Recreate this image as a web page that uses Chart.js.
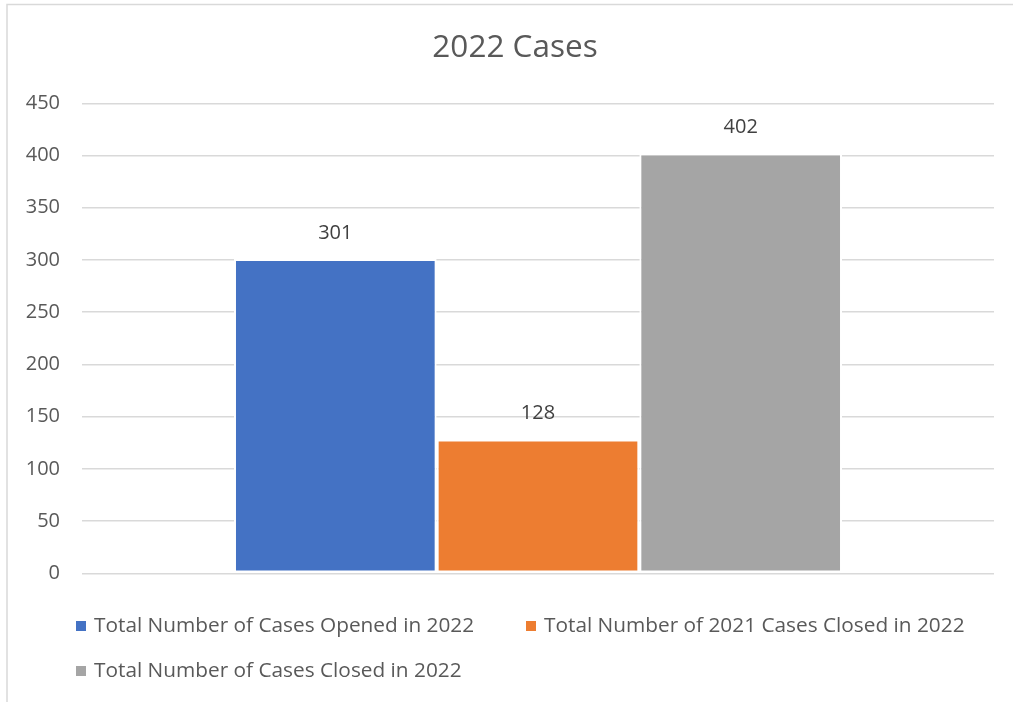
<!DOCTYPE html>
<html>
<head>
<meta charset="utf-8">
<script src="https://cdn.jsdelivr.net/npm/chart.js@4.4.0/dist/chart.umd.min.js"></script>
<style>
  html, body { margin: 0; padding: 0; background: #ffffff; }
  #wrap { position: relative; width: 1013px; height: 702px; }
  canvas { display: block; }
</style>
</head>
<body>
<div id="wrap"><canvas id="c" width="1013" height="702"></canvas></div>
<script>
// ---- data ----
const categories = [''];
const seriesNames = [
  'Total Number of Cases Opened in 2022',
  'Total Number of 2021 Cases Closed in 2022',
  'Total Number of Cases Closed in 2022'
];
const seriesValues = [301, 128, 402];
const seriesColors = ['#4472c4', '#ed7d31', '#a5a5a5'];
const yTicks = [0, 50, 100, 150, 200, 250, 300, 350, 400, 450];
const chartTitle = '2022 Cases';

const FONT = '"Open Sans", "Noto Sans", sans-serif';

const frame = {
  id: 'frame',
  beforeDraw(chart) {
    const ctx = chart.ctx;
    ctx.save();
    ctx.fillStyle = '#ffffff';
    ctx.fillRect(0, 0, chart.width, chart.height);
    ctx.strokeStyle = '#d9d9d9';
    ctx.lineWidth = 1.5;
    ctx.beginPath();
    ctx.moveTo(7, chart.height + 2);
    ctx.lineTo(7, 4.5);
    ctx.lineTo(chart.width + 2, 4.5);
    ctx.stroke();
    ctx.restore();
  }
};

const dataLabels = {
  id: 'dataLabels',
  afterDatasetsDraw(chart) {
    const ctx = chart.ctx;
    ctx.save();
    ctx.font = '20px ' + FONT;
    ctx.fillStyle = '#404040';
    ctx.textAlign = 'center';
    ctx.textBaseline = 'middle';
    chart.data.datasets.forEach((ds, i) => {
      const meta = chart.getDatasetMeta(i);
      meta.data.forEach((bar, j) => {
        ctx.fillText(String(ds.data[j]), bar.x, bar.y - 26);
      });
    });
    ctx.restore();
  }
};

const customLegend = {
  id: 'customLegend',
  afterDraw(chart) {
    const ctx = chart.ctx;
    ctx.save();
    ctx.font = '20.8px ' + FONT;
    ctx.textBaseline = 'middle';
    ctx.textAlign = 'left';
    const startX = 76, colW = 450, cols = 2, startY = 626, rowH = 45;
    chart.data.datasets.forEach((ds, i) => {
      const col = i % cols, row = Math.floor(i / cols);
      const x = startX + col * colW;
      const y = startY + row * rowH;
      ctx.fillStyle = ds.backgroundColor;
      ctx.fillRect(x, y - 5, 10, 10);
      ctx.fillStyle = '#595959';
      ctx.fillText(ds.label, x + 18, y);
    });
    ctx.restore();
  }
};

new Chart(document.getElementById('c'), {
  type: 'bar',
  data: {
    labels: categories,
    datasets: seriesNames.map((name, i) => ({
      label: name,
      data: [seriesValues[i]],
      backgroundColor: seriesColors[i],
      borderColor: '#ffffff',
      borderWidth: 2,
      borderSkipped: false
    }))
  },
  options: {
    responsive: false,
    animation: false,
    devicePixelRatio: 1,
    layout: { padding: { left: 17, right: 0, top: 0, bottom: 128.7 } },
    datasets: { bar: { categoryPercentage: 0.6667, barPercentage: 1.0 } },
    plugins: {
      legend: { display: false },
      tooltip: { enabled: false },
      title: {
        display: true,
        text: chartTitle,
        color: '#595959',
        font: { family: FONT, size: 31.5, weight: 'normal', lineHeight: 1.2 },
        padding: { top: 29, bottom: 36.5 }
      }
    },
    scales: {
      x: { display: false },
      y: {
        min: 0,
        max: 450,
        afterFit(scale) { scale.width = 65; },
        afterBuildTicks(scale) { scale.ticks = yTicks.map(v => ({ value: v })); },
        border: { display: false },
        grid: { color: '#d9d9d9', lineWidth: 1.5, drawTicks: false },
        ticks: {
          padding: 22,
          color: '#595959',
          font: { family: FONT, size: 20 }
        }
      },
      yRight: {
        position: 'right',
        min: 0,
        max: 450,
        afterFit(scale) { scale.width = 19; },
        border: { display: false },
        grid: { display: false, drawTicks: false },
        ticks: { display: false }
      }
    }
  },
  plugins: [frame, dataLabels, customLegend]
});
</script>
</body>
</html>
